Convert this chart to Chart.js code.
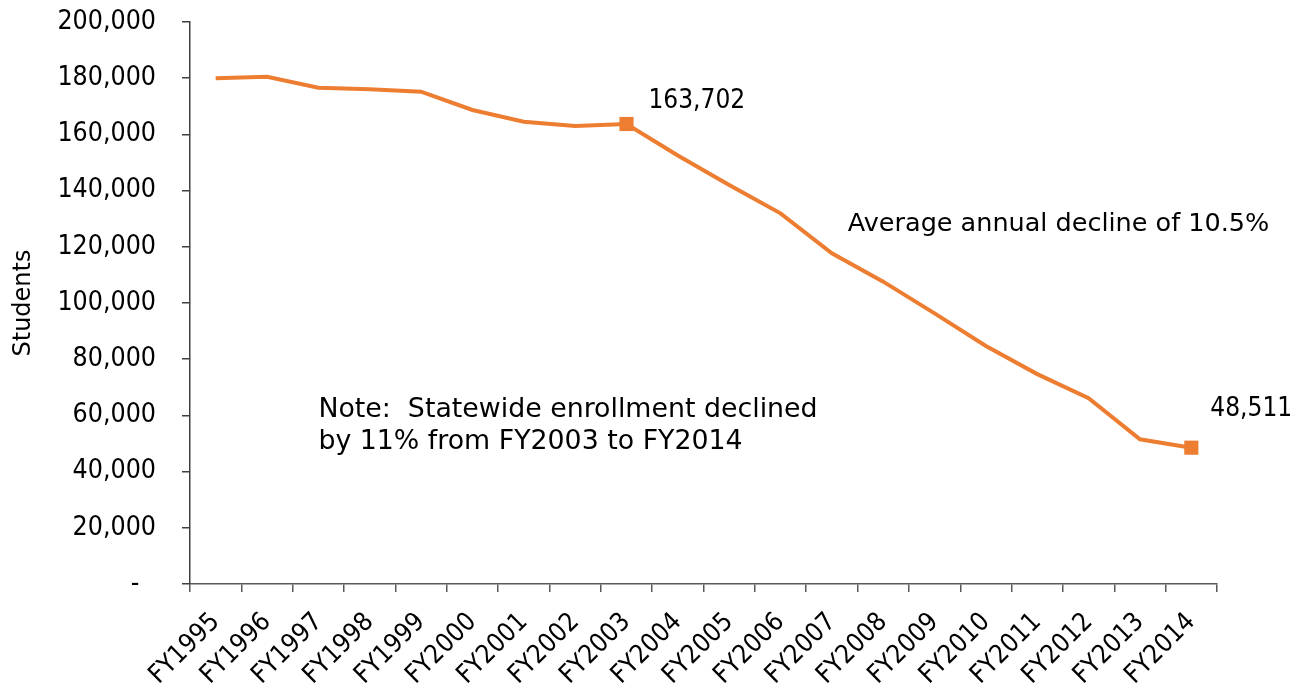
<!DOCTYPE html>
<html><head><meta charset="utf-8">
<script src="https://cdn.jsdelivr.net/npm/chart.js@4.4.0/dist/chart.umd.min.js"></script>
<style>html,body{margin:0;padding:0;background:#fff;}#wrap{width:1300px;height:687px;position:relative;}</style>
</head><body><div id="wrap"><canvas id="c"></canvas></div>
<script>
const categories = ['FY1995','FY1996','FY1997','FY1998','FY1999','FY2000','FY2001','FY2002','FY2003','FY2004','FY2005','FY2006','FY2007','FY2008','FY2009','FY2010','FY2011','FY2012','FY2013','FY2014'];
const students = [180000,180500,176600,176100,175200,168700,164500,163000,163702,152500,142000,131900,117700,107600,96300,84700,74700,66100,51500,48511];
const yMin = 0, yMax = 200000, yStep = 20000;
const markedYears = ['FY2003','FY2014'];
const noteLines = ['Note:  Statewide enrollment declined','by 11% from FY2003 to FY2014'];
const declineText = 'Average annual decline of 10.5%';

const FONT = "'DejaVu Sans Condensed','DejaVu Sans',sans-serif";
const TFONT = "'DejaVu Sans',sans-serif";
const ORANGE = '#ED7D31';
const fmt = v => v.toLocaleString('en-US');

const annot = {
  id: 'annot',
  afterDatasetsDraw(chart) {
    const {ctx, scales: {x, y}} = chart;
    const meta = chart.getDatasetMeta(0);
    ctx.save();
    ctx.fillStyle = '#000';
    ctx.textBaseline = 'middle';
    ctx.textAlign = 'left';
    ctx.font = '26px ' + FONT;
    const offsets = {FY2003: [22, -23], FY2014: [19, -38]};
    markedYears.forEach(yr => {
      const i = categories.indexOf(yr);
      const p = meta.data[i];
      ctx.fillText(fmt(students[i]), p.x + offsets[yr][0], p.y + offsets[yr][1]);
    });
    ctx.font = '25.5px ' + TFONT;
    ctx.fillText(declineText, x.getPixelForValue(12.31), y.getPixelForValue(128100));
    ctx.font = '26.8px ' + TFONT;
    ctx.fillText(noteLines[0], x.getPixelForValue(2), y.getPixelForValue(62000));
    ctx.fillText(noteLines[1], x.getPixelForValue(2), y.getPixelForValue(50500));
    ctx.restore();
  }
};

new Chart(document.getElementById('c'), {
  type: 'line',
  data: {
    labels: categories,
    datasets: [{
      data: students,
      borderColor: ORANGE,
      backgroundColor: ORANGE,
      borderWidth: 4,
      tension: 0,
      pointStyle: 'rect',
      pointRadius: categories.map(c => markedYears.includes(c) ? 10 : 0),
      pointHoverRadius: categories.map(c => markedYears.includes(c) ? 10 : 0),
      pointBorderWidth: 0
    }]
  },
  options: {
    responsive: true,
    maintainAspectRatio: false,
    animation: false,
    events: [],
    layout: {padding: {top: 22, right: 83, left: 0, bottom: 0}},
    plugins: {legend: {display: false}, tooltip: {enabled: false}},
    scales: {
      x: {
        offset: true,
        grid: {offset: true, drawOnChartArea: false, drawTicks: true, tickLength: 8, color: '#595959', lineWidth: 1.5},
        border: {display: true, color: '#595959', width: 1.5},
        ticks: {autoSkip: false, minRotation: 45, maxRotation: 45, padding: 15, color: '#000', font: {family: FONT, size: 26}},
        afterFit: s => { s.height = 103; s.paddingTop = 0; s.paddingBottom = 0; }
      },
      y: {
        min: yMin, max: yMax,
        ticks: {stepSize: yStep, padding: 26, color: '#000', font: {family: FONT, size: 26.5},
          callback: v => v === 0 ? '-\u2002\u2009' : fmt(v)},
        grid: {drawOnChartArea: false, drawTicks: true, tickLength: 8, color: '#404040', lineWidth: 1.5},
        border: {display: true, color: '#404040', width: 1.5},
        title: {display: true, text: 'Students', color: '#000', font: {family: TFONT, size: 24}, padding: {top: 9, bottom: 0}},
        afterFit: s => { s.width = 190; s.paddingTop = 0; s.paddingBottom = 0; }
      }
    }
  },
  plugins: [annot]
});
</script></body></html>
